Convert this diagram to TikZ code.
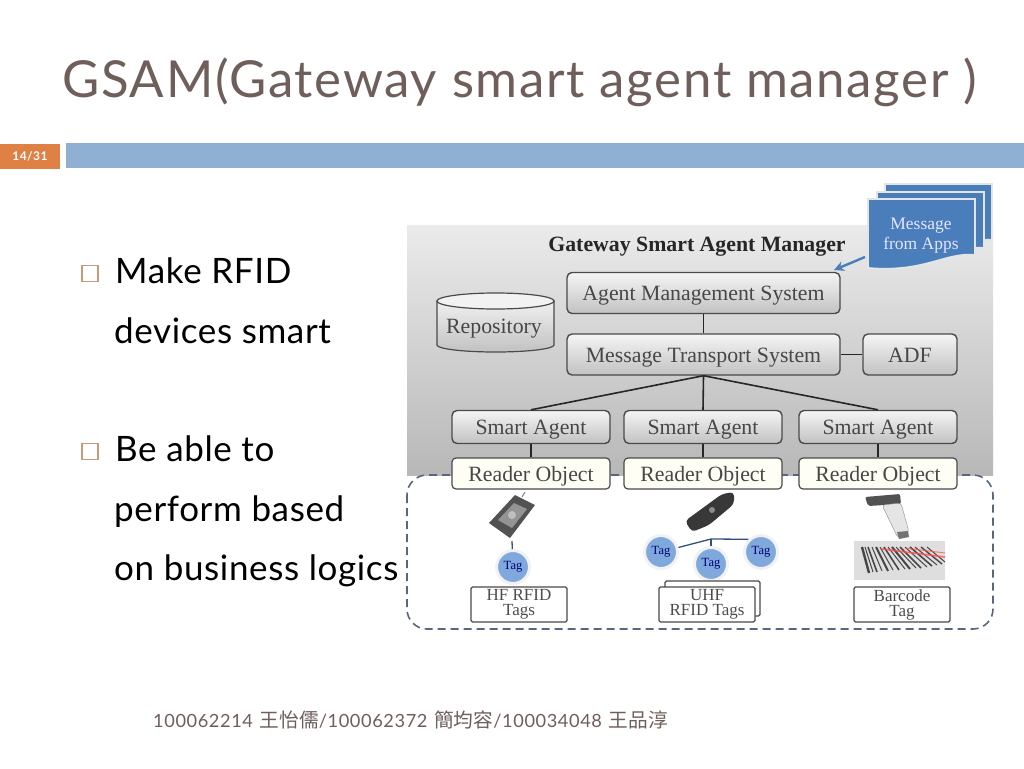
\documentclass[tikz,border=0pt]{standalone}
\usepackage{fontspec}
\setmainfont{Liberation Serif}
\newfontfamily\gillfont[LetterSpace=3.3]{Lato}
\newfontfamily\bodyfont[LetterSpace=1.8]{Lato}
\newfontfamily\cjkfont{Noto Sans CJK TC}
\usetikzlibrary{shapes.geometric,arrows.meta}
\definecolor{titlebrown}{HTML}{6F5F5A}
\definecolor{barblue}{HTML}{8FB0D2}
\definecolor{pageorange}{HTML}{DF8045}
\definecolor{bullettan}{HTML}{C99A78}
\definecolor{docblue}{HTML}{4A7EBB}
\definecolor{tagblue}{HTML}{7FA8DC}
\definecolor{edgegray}{HTML}{4A4A4A}
\definecolor{dashslate}{HTML}{56677F}
\newcommand{\cjkname}[1]{\kern1.5pt{\cjkfont\fontsize{19.7}{19.7}\selectfont #1}}
\tikzset{
    sysbox/.style={draw=edgegray, line width=1.4pt, rounded corners=5pt, top color=white!96!black, bottom color=black!24,
        text=black!72, font=\fontsize{21.8}{21.8}\selectfont, minimum height=41pt, inner sep=0pt, text height=15pt, text depth=0pt},
    agentbox/.style={sysbox, minimum width=158pt, minimum height=33pt},
    readerbox/.style={draw=edgegray, line width=1.2pt, rounded corners=4pt, fill=black!7!yellow!4!white,
        text=black!72, font=\fontsize{21.8}{21.8}\selectfont, minimum width=158pt, minimum height=31pt, inner sep=0pt, text height=15pt, text depth=0pt},
    tagbox/.style={draw=edgegray, line width=1.2pt, fill=white, rounded corners=1.5pt, text=black!70, align=center,
        font=\fontsize{17}{15}\selectfont, minimum width=96pt, minimum height=35pt, inner sep=0pt},
    tagcircle/.style={circle, draw=black!5, line width=3pt, fill=tagblue, text=blue!45!black,
        font=\fontsize{12.5}{12.5}\selectfont, minimum size=33pt, inner sep=0pt},
    slidetext/.style={anchor=base west, text=black, inner sep=0pt, font=\bodyfont\fontsize{35}{35}\selectfont},
    bulletbox/.style={draw=bullettan, line width=1.1pt, minimum size=16pt, inner sep=0pt},
    link/.style={draw=black!85, line width=1.6pt},
    taglink/.style={draw=black!35!docblue, line width=1.3pt}
}
\begin{document}
\begin{tikzpicture}[x=1pt,y=-1pt]
    \useasboundingbox (0,0) rectangle (1024,768);
    \fill[white] (0,0) rectangle (1024,768);

    % slide head
    \node[anchor=base west, inner sep=0pt, text=titlebrown, font=\gillfont\fontsize{51}{51}\selectfont] (title) at (62,97) {GSAM(Gateway smart agent manager )};
    \node[fill=pageorange, text=white, inner sep=0pt, minimum width=60pt, minimum height=25pt, font=\gillfont\bfseries\fontsize{12}{12}\selectfont] (page) at (30,156) {14/31};
    \fill[barblue] (66,143) rectangle (1024,168);

    % bullets
    \node[bulletbox] (bulleta) at (90,273.5) {};
    \node[bulletbox] (bulletb) at (90,451.5) {};
    \node[slidetext] (make) at (115,283) {Make RFID};
    \node[slidetext] (devices) at (114,343) {devices smart};
    \node[slidetext] (able) at (115,461) {Be able to};
    \node[slidetext] (perform) at (114,521) {perform based};
    \node[slidetext] (logics) at (114,580) {on business logics};

    % panel
    \shade[top color=black!8, bottom color=black!28] (407,225) rectangle (993,475);
    \draw[dashslate, line width=1.6pt, dash pattern=on 8pt off 5pt, rounded corners=20pt]
        (407,475) rectangle (993,629);
    \node[font=\bfseries\fontsize{21.8}{21.8}\selectfont, text=black!85, inner sep=0pt] (panel) at (697,247) {Gateway Smart Agent Manager};

    % repository
    \draw[edgegray, line width=1.2pt, top color=black!6, bottom color=black!24]
        (437,301) -- (437,345) arc[start angle=180, end angle=360, x radius=58.5pt, y radius=7pt] -- (554,301) -- cycle;
    \draw[edgegray, line width=1.2pt, fill=black!5] (495.5,301) ellipse[x radius=58.5pt, y radius=8pt];
    \node[font=\fontsize{21.8}{21.8}\selectfont, text=black!72] (repo) at (494,329) {Repository};

    % boxes
    \node[sysbox, minimum width=273pt] (ams) at (703.5,293) {Agent Management System};
    \node[sysbox, minimum width=273pt] (mts) at (703.5,354.5) {Message Transport System};
    \node[sysbox, minimum width=94pt] (adf) at (910,354.5) {ADF};
    \foreach \name/\xpos in {a/531, b/703, c/878} {
        \node[agentbox] (agent\name) at (\xpos,427) {Smart Agent};
        \node[readerbox] (reader\name) at (\xpos,473.5) {Reader Object};
        \draw[link] (agent\name) -- (reader\name);
        \draw[link] (mts.south) -- (agent\name.north);
    }
    \draw[link] (ams) -- (mts);
    \draw[link] (mts) -- (adf);

    % message sheets
    \foreach \dx/\dy in {17/-15, 9/-7, 0/0} {
        \filldraw[fill=docblue, draw=white!90!black, line width=1.8pt, shift={(\dx,\dy)}]
            (868,199) -- (975,199) -- (975,255) .. controls (945,252) and (925,273) .. (868,268) -- cycle;
    }
    \node[align=center, text=white!90!blue, font=\fontsize{17.5}{20}\selectfont] (msg) at (921,236) {Message\\from Apps};
    \coordinate (msgout) at (865,257);
    \draw[-{Stealth[length=10pt,width=10pt]}, docblue, line width=2.4pt] (msgout) -- (834,270);

    % hf reader
    \fill[black!68] (515,495) -- (535,505) -- (510,538) -- (489,523) -- cycle;
    \fill[black!42] (514,503) -- (527,509) -- (512,528) -- (498,520) -- cycle;
    \fill[black!25] (512,515) circle (4pt);
    \draw[black!50, line width=1pt] (525,492) -- (522,497);

    % uhf reader
    \fill[black!78, rounded corners=4pt] (685,521) -- (722,494) -- (734,492) -- (734,504) -- (709,525) -- (692,532) -- cycle;
    \fill[black!45] (712,510) circle (3pt);

    % barcode scanner
    \fill[black!68, rounded corners=2pt] (865,497) -- (900,494) -- (901,504) -- (868,506) -- cycle;
    \filldraw[draw=black!45, fill=black!10, rounded corners=3pt] (882,505) -- (901,503) -- (909,532) -- (898,538) -- cycle;
    \fill[black!55] (897,532) -- (908,531) -- (909,537) -- (899,539) -- cycle;

    % barcode
    \fill[black!13] (854,541) rectangle (945,580);
    \foreach \xa/\xb/\yb/\lw in {862/869/573/2.4, 865/873/572/1, 868/877/572/1.6, 872/882/571/1, 876/888/571/2, 880/893/570/1, 884/899/570/1.6, 888/905/569/1, 892/910/569/2, 896/916/568/1, 900/921/568/1.6, 905/927/567/1, 910/932/566/1.6, 915/937/565/1, 921/942/564/1.4, 927/945/562/1} {
        \draw[black!72, line width=\lw pt] (\xa,547) -- (\xb,\yb);
    }
    \draw[red!70!white, line width=1.6pt, opacity=.8] (882,549) -- (945,557);
    \draw[red!70!white, line width=1pt, opacity=.7] (905,548) -- (945,553);

    % tags
    \node[tagcircle] (hftag) at (513,567) {Tag};
    \node[tagcircle] (uhftaga) at (661,552) {Tag};
    \node[tagcircle] (uhftagb) at (711,564) {Tag};
    \node[tagcircle] (uhftagc) at (761,552) {Tag};
    \coordinate (hfout) at (512,541);
    \coordinate (uhfout) at (711,539);
    \draw[taglink] (hfout) -- (hftag);
    \draw[taglink] (uhfout) -- (uhftaga);
    \draw[taglink] (uhfout) -- (uhftagb);
    \draw[taglink] (uhfout) -- (uhftagc.north west);

    % tag boxes
    \draw[edgegray, line width=1.2pt, fill=white, rounded corners=1.5pt] (665,581) rectangle (760,616);
    \node[tagbox] (hfbox) at (519,604.5) {HF RFID\\Tags};
    \node[tagbox] (uhfbox) at (707,604.5) {UHF\\RFID Tags};
    \node[tagbox] (barbox) at (902,604.5) {Barcode\\Tag};

    % footer
    \node[anchor=base west, inner sep=0pt, text=titlebrown, font=\gillfont\fontsize{18.2}{18.2}\selectfont] (names) at (153,727)
        {100062214 \cjkname{王怡儒}/100062372 \cjkname{簡均容}/100034048 \cjkname{王品淳}};
\end{tikzpicture}
\end{document}
